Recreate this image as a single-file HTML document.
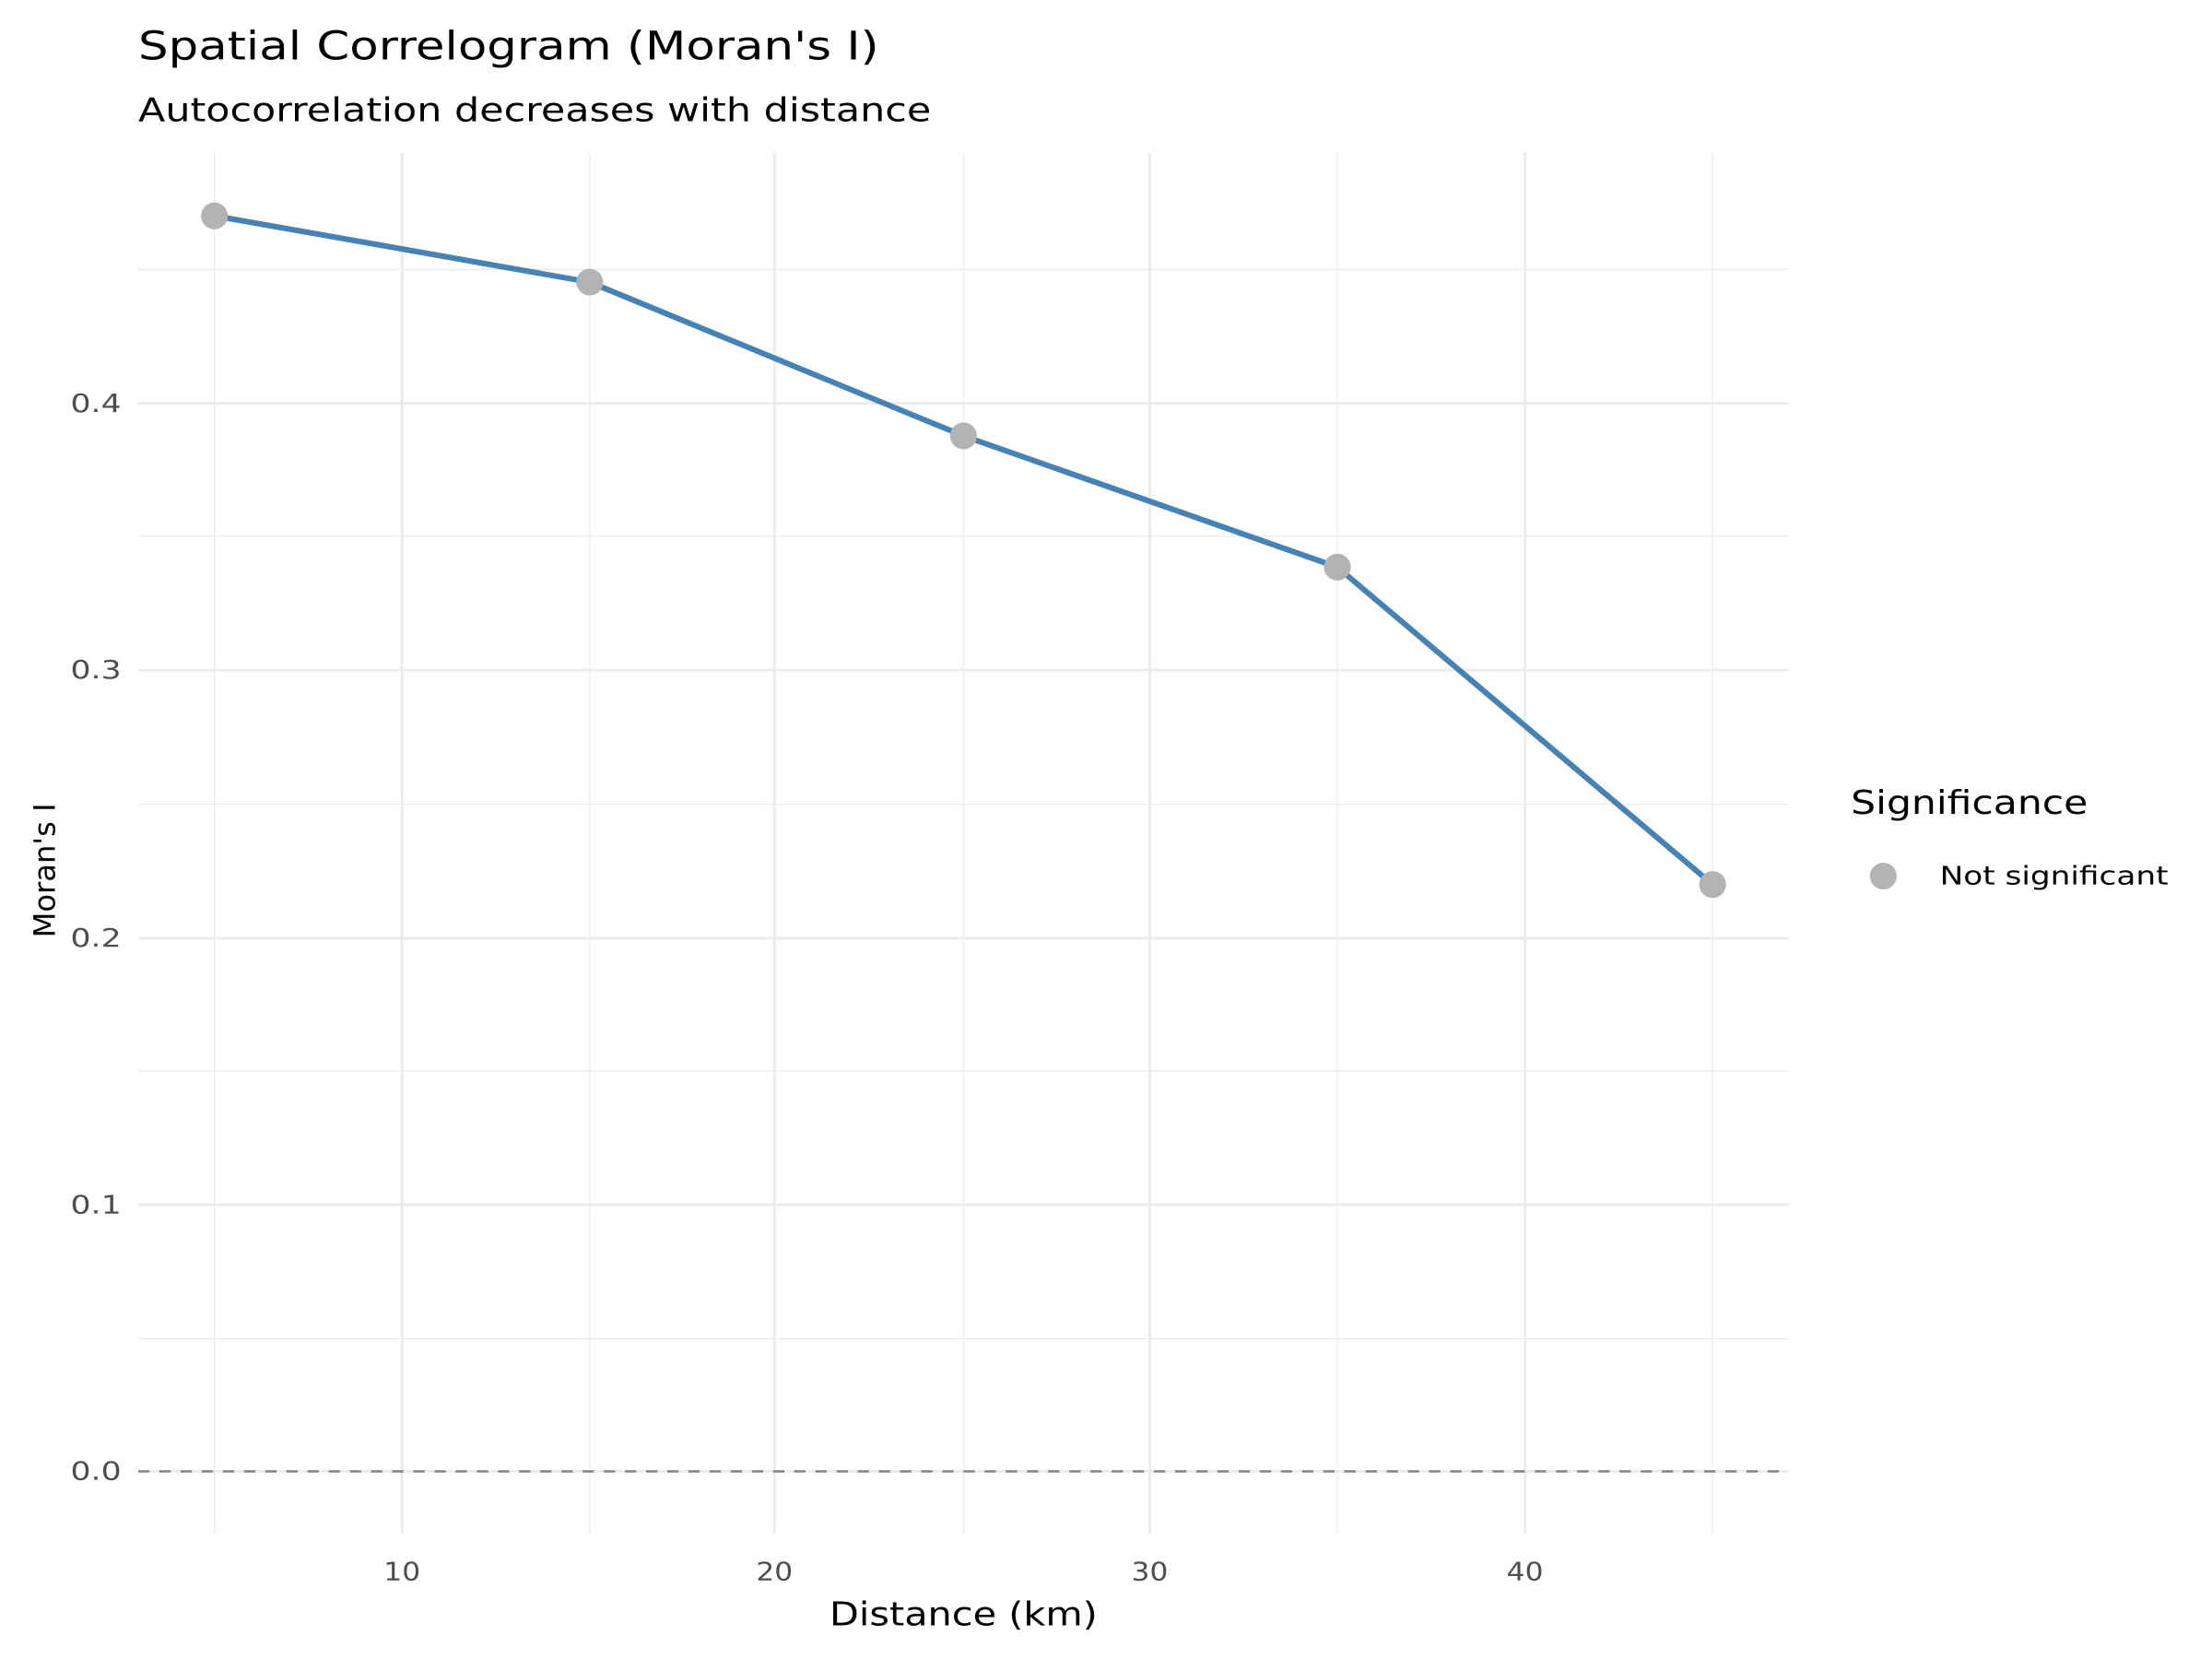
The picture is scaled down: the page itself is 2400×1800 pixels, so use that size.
<!DOCTYPE html>
<html><head><meta charset="utf-8"><style>html,body{margin:0;padding:0;background:#fff}svg{display:block}</style></head>
<body>
<svg width="2400" height="1800" viewBox="0 0 1568 1176" xmlns="http://www.w3.org/2000/svg" font-family="'DejaVu Sans','Liberation Sans',sans-serif">
<rect width="1568" height="1176" fill="#fff"/>
<g stroke="#ebebeb" stroke-width="0.8">
<line x1="98" x2="1268" y1="949" y2="949"/><line x1="98" x2="1268" y1="759" y2="759"/><line x1="98" x2="1268" y1="570" y2="570"/><line x1="98" x2="1268" y1="380" y2="380"/><line x1="98" x2="1268" y1="191" y2="191"/>
<line x1="152" x2="152" y1="108" y2="1087"/><line x1="418" x2="418" y1="108" y2="1087"/><line x1="683" x2="683" y1="108" y2="1087"/><line x1="948" x2="948" y1="108" y2="1087"/><line x1="1214" x2="1214" y1="108" y2="1087"/>
</g>
<g stroke="#ebebeb" stroke-width="1.8">
<line x1="98" x2="1268" y1="1043" y2="1043"/><line x1="98" x2="1268" y1="854" y2="854"/><line x1="98" x2="1268" y1="665" y2="665"/><line x1="98" x2="1268" y1="475" y2="475"/><line x1="98" x2="1268" y1="286" y2="286"/>
<line x1="285" x2="285" y1="108" y2="1087"/><line x1="549" x2="549" y1="108" y2="1087"/><line x1="815" x2="815" y1="108" y2="1087"/><line x1="1081" x2="1081" y1="108" y2="1087"/>
</g>
<line x1="98" x2="1268" y1="1043" y2="1043" stroke="#808080" stroke-width="1.6" stroke-dasharray="8,7"/>
<polyline points="152,153 418,200 683,309 948,402 1214,627" fill="none" stroke="#4682b4" stroke-width="4" stroke-linejoin="round"/>
<g fill="#b3b3b3"><circle cx="152" cy="153" r="9.5"/><circle cx="418" cy="200" r="9.5"/><circle cx="683" cy="309" r="9.5"/><circle cx="948" cy="402" r="9.5"/><circle cx="1214" cy="627" r="9.5"/></g>
<g font-size="18" fill="#4d4d4d">
<text x="50" y="1049" textLength="36" lengthAdjust="spacingAndGlyphs">0.0</text><text x="50" y="860" textLength="36" lengthAdjust="spacingAndGlyphs">0.1</text><text x="50" y="671" textLength="36" lengthAdjust="spacingAndGlyphs">0.2</text><text x="50" y="481" textLength="36" lengthAdjust="spacingAndGlyphs">0.3</text><text x="50" y="292" textLength="36" lengthAdjust="spacingAndGlyphs">0.4</text>
</g>
<g font-size="18" fill="#4d4d4d">
<text x="272" y="1120" textLength="26" lengthAdjust="spacingAndGlyphs">10</text><text x="536" y="1120" textLength="26" lengthAdjust="spacingAndGlyphs">20</text><text x="802" y="1120" textLength="26" lengthAdjust="spacingAndGlyphs">30</text><text x="1068" y="1120" textLength="26" lengthAdjust="spacingAndGlyphs">40</text>
</g>
<text x="588" y="1152" font-size="23" textLength="190" lengthAdjust="spacingAndGlyphs" fill="#000">Distance (km)</text>
<text transform="translate(39,617) rotate(-90)" font-size="21" text-anchor="middle" fill="#000">Moran's I</text>
<text x="98" y="42" font-size="28" textLength="525" lengthAdjust="spacingAndGlyphs" fill="#000">Spatial Correlogram (Moran's I)</text>
<text x="98" y="86" font-size="23" textLength="562" lengthAdjust="spacingAndGlyphs" fill="#000">Autocorrelation decreases with distance</text>
<text x="1312" y="577" font-size="23" textLength="168" lengthAdjust="spacingAndGlyphs" fill="#000">Significance</text>
<circle cx="1335" cy="621" r="9.5" fill="#b3b3b3"/>
<text x="1375" y="627" font-size="18" textLength="162" lengthAdjust="spacingAndGlyphs" fill="#000">Not significant</text>
</svg>
</body></html>
